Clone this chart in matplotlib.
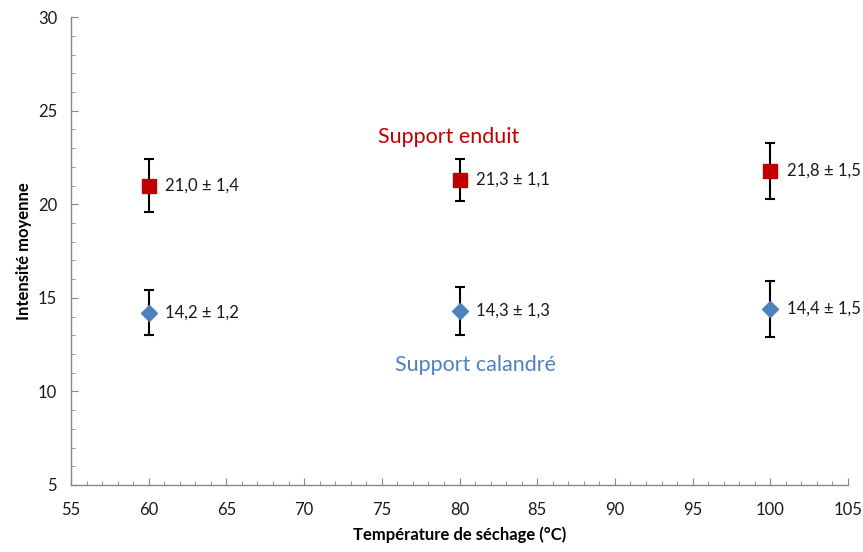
import numpy as np
import matplotlib.pyplot as plt
from matplotlib.ticker import MultipleLocator

plt.rcParams['font.family'] = ['Lato', 'DejaVu Sans']

temperatures = [60, 80, 100]
enduit_mean = [21.0, 21.3, 21.8]
enduit_err = [1.4, 1.1, 1.5]
calandre_mean = [14.2, 14.3, 14.4]
calandre_err = [1.2, 1.3, 1.5]
enduit_labels = ['21,0 ± 1,4', '21,3 ± 1,1', '21,8 ± 1,5']
calandre_labels = ['14,2 ± 1,2', '14,3 ± 1,3', '14,4 ± 1,5']

red = '#C00000'
blue = '#4F81BD'
grey = '#868686'

fig = plt.figure(figsize=(8.63, 5.52), dpi=100)
ax = fig.add_axes([0.0823, 0.1214, 0.9003, 0.8476])

ax.errorbar(temperatures, enduit_mean, yerr=enduit_err, fmt='s', color=red,
            markersize=9.5, ecolor='black', elinewidth=1.5, capsize=3.5,
            capthick=1.5, zorder=3)
ax.errorbar(temperatures, calandre_mean, yerr=calandre_err, fmt='D', color=blue,
            markersize=8, ecolor='black', elinewidth=1.5, capsize=3.5,
            capthick=1.5, zorder=3)

for x, y, t in zip(temperatures, enduit_mean, enduit_labels):
    ax.annotate(t, (x, y), xytext=(12, 0), textcoords='offset points',
                va='center', ha='left', fontsize=12, color='#1a1a1a')
for x, y, t in zip(temperatures, calandre_mean, calandre_labels):
    ax.annotate(t, (x, y), xytext=(12, 0), textcoords='offset points',
                va='center', ha='left', fontsize=12, color='#1a1a1a')

ax.text(79.3, 23.6, 'Support enduit', color=red, fontsize=15.5,
        ha='center', va='center')
ax.text(81.0, 11.4, 'Support calandré', color=blue, fontsize=15.5,
        ha='center', va='center')

ax.set_xlim(55, 105)
ax.set_ylim(5, 30)
ax.xaxis.set_major_locator(MultipleLocator(5))
ax.xaxis.set_minor_locator(MultipleLocator(1))
ax.yaxis.set_major_locator(MultipleLocator(5))
ax.yaxis.set_minor_locator(MultipleLocator(1))

for side in ['top', 'right']:
    ax.spines[side].set_visible(False)
for side in ['left', 'bottom']:
    ax.spines[side].set_color(grey)
    ax.spines[side].set_linewidth(1)

ax.tick_params(which='major', direction='in', length=5, color=grey,
               labelsize=12, labelcolor='#1a1a1a')
ax.tick_params(which='minor', direction='in', length=3, color=grey)
ax.tick_params(axis='x', which='major', pad=12)
ax.tick_params(axis='y', which='major', pad=10)

ax.set_xlabel('Température de séchage (°C)', fontsize=12, fontweight='bold',
              labelpad=6)
ax.set_ylabel('Intensité moyenne', fontsize=12, fontweight='bold',
              labelpad=4)

fig.savefig('out.png', dpi=100)
